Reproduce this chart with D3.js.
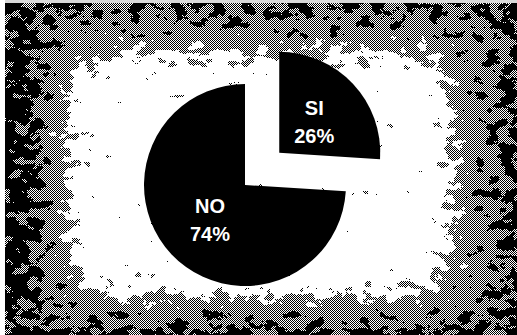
<!DOCTYPE html>
<html><head><meta charset="utf-8">
<script src="https://cdn.jsdelivr.net/npm/d3@7"></script>
<style>html,body{margin:0;padding:0;background:#fff;}svg{display:block;}</style>
</head><body>
<svg id="chart" width="517" height="335"></svg>
<script>
const categories = ["SI", "NO"];
const values = [26, 74];
const labels = ["26%", "74%"];

const W = 517, H = 335;
const svg = d3.select("#chart");
const defs = svg.append("defs");

// checker dither pattern
const pat = defs.append("pattern").attr("id", "checker").attr("patternUnits", "userSpaceOnUse")
  .attr("width", 2).attr("height", 2);
pat.append("rect").attr("width", 2).attr("height", 2).attr("fill", "#fff");
pat.append("rect").attr("x", 0).attr("y", 0).attr("width", 1).attr("height", 1).attr("fill", "#000");
pat.append("rect").attr("x", 1).attr("y", 1).attr("width", 1).attr("height", 1).attr("fill", "#000");

// threshold filters producing black/white masks from a blurred field + noise
function makeFilter(id, table) {
  const f = defs.append("filter").attr("id", id)
    .attr("filterUnits", "userSpaceOnUse").attr("primitiveUnits", "userSpaceOnUse")
    .attr("x", 0).attr("y", 0).attr("width", W).attr("height", H)
    .attr("color-interpolation-filters", "sRGB");
  f.append("feGaussianBlur").attr("in", "SourceGraphic").attr("stdDeviation", 16).attr("result", "field");
  f.append("feTurbulence").attr("type", "fractalNoise").attr("baseFrequency", "0.07 0.1")
    .attr("numOctaves", 4).attr("seed", 7).attr("result", "n0");
  f.append("feColorMatrix").attr("in", "n0").attr("type", "matrix")
    .attr("values", "1 0 0 0 0  1 0 0 0 0  1 0 0 0 0  0 0 0 0 1").attr("result", "noise");
  f.append("feComposite").attr("in", "field").attr("in2", "noise").attr("operator", "arithmetic")
    .attr("k1", 0).attr("k2", 1).attr("k3", 1.0).attr("k4", -0.5).attr("result", "sum");
  f.append("feColorMatrix").attr("in", "sum").attr("type", "matrix")
    .attr("values", "1 0 0 0 0  1 0 0 0 0  1 0 0 0 0  0 0 0 0 1").attr("result", "sumg");
  const ct = f.append("feComponentTransfer").attr("in", "sumg");
  ["feFuncR", "feFuncG", "feFuncB"].forEach(fn =>
    ct.append(fn).attr("type", "discrete").attr("tableValues", table));
}
makeFilter("darkF", "1 1 0 0 0 0 0 0 0 0");
makeFilter("lightF", "0 0 0 0 0 0 0 1 1 1");

function fieldContent(sel) {
  sel.append("rect").attr("x", 0).attr("y", 0).attr("width", W).attr("height", H).attr("fill", "#5e5e5e");
  sel.append("rect").attr("x", 0).attr("y", 0).attr("width", 45).attr("height", H).attr("fill", "#1c1c1c");
  sel.append("rect").attr("x", 0).attr("y", 12).attr("width", W).attr("height", 18).attr("fill", "#404040");
  sel.append("rect").attr("x", 475).attr("y", 0).attr("width", 42).attr("height", H).attr("fill", "#484848");
  sel.append("rect").attr("x", 0).attr("y", 305).attr("width", W).attr("height", 30).attr("fill", "#484848");
  sel.append("rect").attr("x", 66).attr("y", 52).attr("width", 388).attr("height", 246)
    .attr("rx", 45).attr("fill", "#fff");
  sel.append("rect").attr("x", 100).attr("y", 80).attr("width", 320).attr("height", 190).attr("fill", "#fff");
}
const mDark = defs.append("mask").attr("id", "mDark").attr("maskUnits", "userSpaceOnUse")
  .attr("x", 0).attr("y", 0).attr("width", W).attr("height", H);
fieldContent(mDark.append("g").attr("filter", "url(#darkF)"));
const mLight = defs.append("mask").attr("id", "mLight").attr("maskUnits", "userSpaceOnUse")
  .attr("x", 0).attr("y", 0).attr("width", W).attr("height", H);
fieldContent(mLight.append("g").attr("filter", "url(#lightF)"));

svg.append("rect").attr("width", W).attr("height", H).attr("fill", "url(#checker)");
svg.append("rect").attr("width", W).attr("height", H).attr("fill", "#000").attr("mask", "url(#mDark)");
svg.append("rect").attr("width", W).attr("height", H).attr("fill", "#fff").attr("mask", "url(#mLight)");

// light scan strips at top and left edges
svg.append("rect").attr("x", 0).attr("y", 0).attr("width", W).attr("height", 3).attr("fill", "#d8d8d8");
svg.append("rect").attr("x", 0).attr("y", 0).attr("width", 5).attr("height", H).attr("fill", "#ffffff");

// pie
const cx = 245, cy = 185, R = 101, explode = 47, labelR = 48;
const pie = d3.pie().sort(null).startAngle(0).endAngle(2 * Math.PI);
const arcs = pie(values);
const arc = d3.arc().innerRadius(0).outerRadius(R);
const g = svg.append("g").attr("transform", `translate(${cx},${cy})`);

const slices = g.selectAll("g.slice").data(arcs).join("g").attr("class", "slice")
  .attr("transform", (d, i) => {
    if (i !== 0) return null;
    const m = (d.startAngle + d.endAngle) / 2;
    return `translate(${Math.sin(m) * explode},${-Math.cos(m) * explode})`;
  });
slices.append("path").attr("d", arc).attr("fill", "#000");

slices.each(function(d, i) {
  const m = (d.startAngle + d.endAngle) / 2;
  const x = Math.sin(m) * labelR, y = -Math.cos(m) * labelR;
  const t = d3.select(this).append("text")
    .attr("x", x).attr("y", y)
    .attr("text-anchor", "middle")
    .attr("font-family", "Liberation Sans, Arial, sans-serif")
    .attr("font-weight", "bold").attr("font-size", 20).attr("fill", "#fff");
  t.append("tspan").attr("x", x).attr("dy", "-0.25em").text(categories[i]);
  t.append("tspan").attr("x", x).attr("dy", "1.4em").text(labels[i]);
});
</script>
</body></html>
